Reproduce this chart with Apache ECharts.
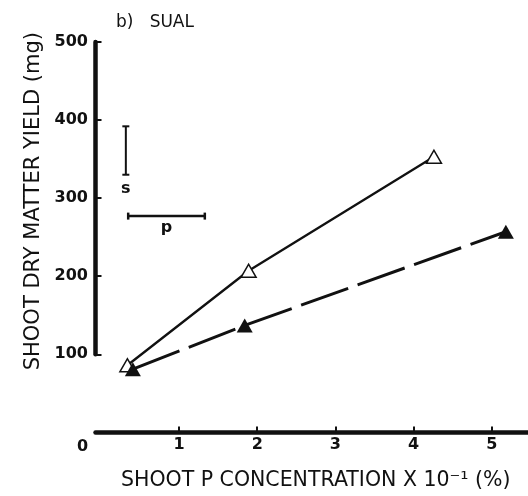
<!DOCTYPE html>
<html><head><meta charset="utf-8">
<script src="https://cdn.jsdelivr.net/npm/echarts@6/dist/echarts.min.js"></script>
<style>html,body{margin:0;padding:0;background:#fff}#c{width:528px;height:496px}</style>
</head><body><div id="c"></div>
<script>
const titleText = 'b)   SUAL';
const xAxisTitle = 'SHOOT P CONCENTRATION X 10\u207B\u00B9 (%)';
const yAxisTitle = 'SHOOT DRY MATTER YIELD (mg)';
const xTickValues = [1, 2, 3, 4, 5];
const xZeroLabel = '0';
const openX = [0.34, 1.89, 4.26];
const openY = [86, 207, 353];
const filledX = [0.41, 1.84, 5.18];
const filledY = [81, 137, 257];
const sBar = [0.32, 330, 392];   // x, low, high
const pBar = [277, 0.35, 1.33];  // y, left, right
const sLabel = 's';
const pLabel = 'p';

const INK = '#111';
const FONT = 'DejaVu Sans';
const X_MIN = -0.068, X_MAX = 5.463;

const chart = echarts.init(document.getElementById('c'), null, {renderer: 'canvas'});

function vBar(params, api) {
  const p1 = api.coord([api.value(0), api.value(1)]);
  const p2 = api.coord([api.value(0), api.value(2)]);
  const c = 3.5;
  const st = {stroke: INK, lineWidth: 2};
  return {type: 'group', children: [
    {type: 'line', shape: {x1: p1[0], y1: p1[1], x2: p2[0], y2: p2[1]}, style: st},
    {type: 'line', shape: {x1: p1[0]-c, y1: p1[1], x2: p1[0]+c, y2: p1[1]}, style: st},
    {type: 'line', shape: {x1: p2[0]-c, y1: p2[1], x2: p2[0]+c, y2: p2[1]}, style: st},
    {type: 'text', x: p1[0], y: p1[1] + 14, style: {text: sLabel, fill: INK, font: 'bold 16px "DejaVu Sans"', align: 'center', verticalAlign: 'middle'}}
  ]};
}
function hBar(params, api) {
  const p1 = api.coord([api.value(1), api.value(0)]);
  const p2 = api.coord([api.value(2), api.value(0)]);
  const c = 3.5;
  const st = {stroke: INK, lineWidth: 2.5};
  return {type: 'group', children: [
    {type: 'line', shape: {x1: p1[0], y1: p1[1], x2: p2[0], y2: p2[1]}, style: st},
    {type: 'line', shape: {x1: p1[0], y1: p1[1]-c, x2: p1[0], y2: p1[1]+c}, style: st},
    {type: 'line', shape: {x1: p2[0], y1: p2[1]-c, x2: p2[0], y2: p2[1]+c}, style: st},
    {type: 'text', x: (p1[0]+p2[0])/2, y: p1[1] + 12, style: {text: pLabel, fill: INK, font: 'bold 16px "DejaVu Sans"', align: 'center', verticalAlign: 'middle'}}
  ]};
}

const option = {
  animation: false,
  backgroundColor: '#fff',
  title: {
    text: titleText, left: 111, top: 9,
    textStyle: {fontFamily: FONT, fontSize: 17, fontWeight: 'normal', color: INK}
  },
  grid: [
    {left: 95.5, top: 42, width: 432.5, height: 312.3, outerBoundsMode: 'none'},
    {left: 95.5, top: 354.3, width: 432.5, height: 78.1, outerBoundsMode: 'none'}
  ],
  xAxis: [
    {gridIndex: 0, type: 'value', min: X_MIN, max: X_MAX, show: false},
    {
      gridIndex: 1, type: 'value', min: X_MIN, max: X_MAX,
      axisLine: {show: true, onZero: false, lineStyle: {color: INK, width: 4.5, cap: 'round'}},
      axisTick: {show: true, inside: true, length: 6, customValues: xTickValues, lineStyle: {color: INK, width: 2}},
      axisLabel: {customValues: xTickValues, fontFamily: FONT, fontWeight: 'bold', fontSize: 16, color: INK, margin: 4},
      splitLine: {show: false},
      name: xAxisTitle, nameLocation: 'middle', nameGap: 38,
      nameTextStyle: {fontFamily: FONT, fontSize: 20.5, color: INK, padding: [0, 0, 0, 8]}
    }
  ],
  yAxis: [
    {
      gridIndex: 0, type: 'value', min: 100, max: 500, interval: 100,
      axisLine: {show: true, onZero: false, lineStyle: {color: INK, width: 4.5}},
      axisTick: {show: true, inside: true, length: 6, lineStyle: {color: INK, width: 2}},
      axisLabel: {fontFamily: FONT, fontWeight: 'bold', fontSize: 16, color: INK, margin: 7.5},
      splitLine: {show: false},
      name: yAxisTitle, nameLocation: 'middle', nameGap: 50, nameRotate: 90,
      nameTextStyle: {fontFamily: FONT, fontSize: 21, color: INK, padding: [0, 6, 0, 0]}
    },
    {gridIndex: 1, type: 'value', min: 0, max: 100, show: false}
  ],
  graphic: [
    {type: 'text', left: 77, top: 439, style: {text: xZeroLabel, font: 'bold 16px "DejaVu Sans"', fill: INK}}
  ],
  series: [
    {
      type: 'custom', xAxisIndex: 0, yAxisIndex: 0, renderItem: vBar,
      data: [sBar], encode: {x: 0, y: [1, 2]}, silent: true
    },
    {
      type: 'custom', xAxisIndex: 0, yAxisIndex: 0, renderItem: hBar,
      data: [pBar], encode: {x: [1, 2], y: 0}, silent: true
    },
    {
      type: 'line', xAxisIndex: 0, yAxisIndex: 0, clip: false,
      data: openX.map((x, i) => [x, openY[i]]),
      symbol: 'triangle', symbolSize: [15, 13], showSymbol: true,
      itemStyle: {color: '#fff', borderColor: INK, borderWidth: 1.5},
      lineStyle: {color: INK, width: 2.3},
      z: 3
    },
    {
      type: 'line', xAxisIndex: 0, yAxisIndex: 0, clip: false,
      data: filledX.map((x, i) => [x, filledY[i]]),
      symbol: 'triangle', symbolSize: [16, 14], showSymbol: true,
      itemStyle: {color: INK, borderColor: INK, borderWidth: 0},
      lineStyle: {color: INK, width: 3, type: [50, 10], dashOffset: 0},
      z: 4
    }
  ]
};
chart.setOption(option);
</script>
</body></html>
